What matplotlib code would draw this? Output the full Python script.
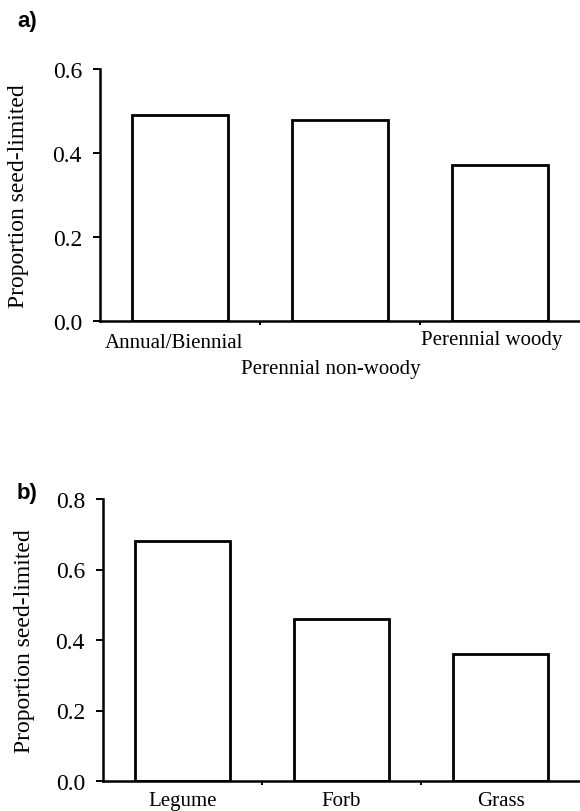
import matplotlib.pyplot as plt
import matplotlib.transforms as mtransforms

plt.rcParams['font.family'] = ['Liberation Serif', 'DejaVu Serif']

# panel a) life history
life_forms = ['Annual/Biennial', 'Perennial non-woody', 'Perennial woody']
life_values = [0.49, 0.478, 0.372]

# panel b) functional group
groups = ['Legume', 'Forb', 'Grass']
group_values = [0.68, 0.46, 0.36]

W, H = 580, 812
fig = plt.figure(figsize=(W / 100, H / 100), dpi=100)


def px_axes(left, top, right, bottom):
    return fig.add_axes([left / W, 1 - bottom / H, (right - left) / W, (bottom - top) / H])


def style(ax, ymax, yticks, label_x):
    ax.set_xlim(0, 3)
    ax.set_ylim(0, ymax)
    for s in ['top', 'right']:
        ax.spines[s].set_visible(False)
    for s in ['left', 'bottom']:
        ax.spines[s].set_linewidth(1.8)
    ax.set_yticks(yticks)
    ax.set_yticklabels(['%.1f' % t for t in yticks])
    ax.set_xticks([1, 2])
    ax.set_xticklabels([])
    ax.tick_params(axis='y', direction='out', length=5, width=1.4, labelsize=17, pad=8)
    ax.tick_params(axis='x', direction='out', length=3, width=1.4)
    ax.set_ylabel('Proportion seed-limited', fontsize=17)
    ax.yaxis.set_label_coords(label_x, 0.5)


# a)
ax1 = px_axes(100, 70, 580, 322)
x = [i + 0.5 for i in range(len(life_forms))]
ax1.bar(x, life_values, width=0.6, color='white', edgecolor='black', linewidth=2)
style(ax1, 0.6, [0.0, 0.2, 0.4, 0.6], (29 - 100) / 480)
trans = mtransforms.blended_transform_factory(ax1.transData, ax1.transAxes)
offsets = [-0.085, -0.19, -0.075]
shifts = [-0.04, -0.06, -0.05]
for xi, lab, off, sh in zip(x, life_forms, offsets, shifts):
    ax1.text(xi + sh, off, lab, transform=trans, ha='center', va='center', fontsize=15)
fig.text(17 / W, 1 - 21 / H, 'a)', family='Liberation Sans', fontweight='bold', fontsize=16,
         ha='left', va='center')

# b)
ax2 = px_axes(103, 500, 580, 782)
x = [i + 0.5 for i in range(len(groups))]
ax2.bar(x, group_values, width=0.6, color='white', edgecolor='black', linewidth=2)
style(ax2, 0.8, [0.0, 0.2, 0.4, 0.6, 0.8], (35 - 103) / 477)
trans = mtransforms.blended_transform_factory(ax2.transData, ax2.transAxes)
for xi, lab in zip(x, groups):
    ax2.text(xi, -0.068, lab, transform=trans, ha='center', va='center', fontsize=15)
fig.text(17 / W, 1 - 494 / H, 'b)', family='Liberation Sans', fontweight='bold', fontsize=16,
         ha='left', va='center')

fig.savefig('out.png', dpi=100)
